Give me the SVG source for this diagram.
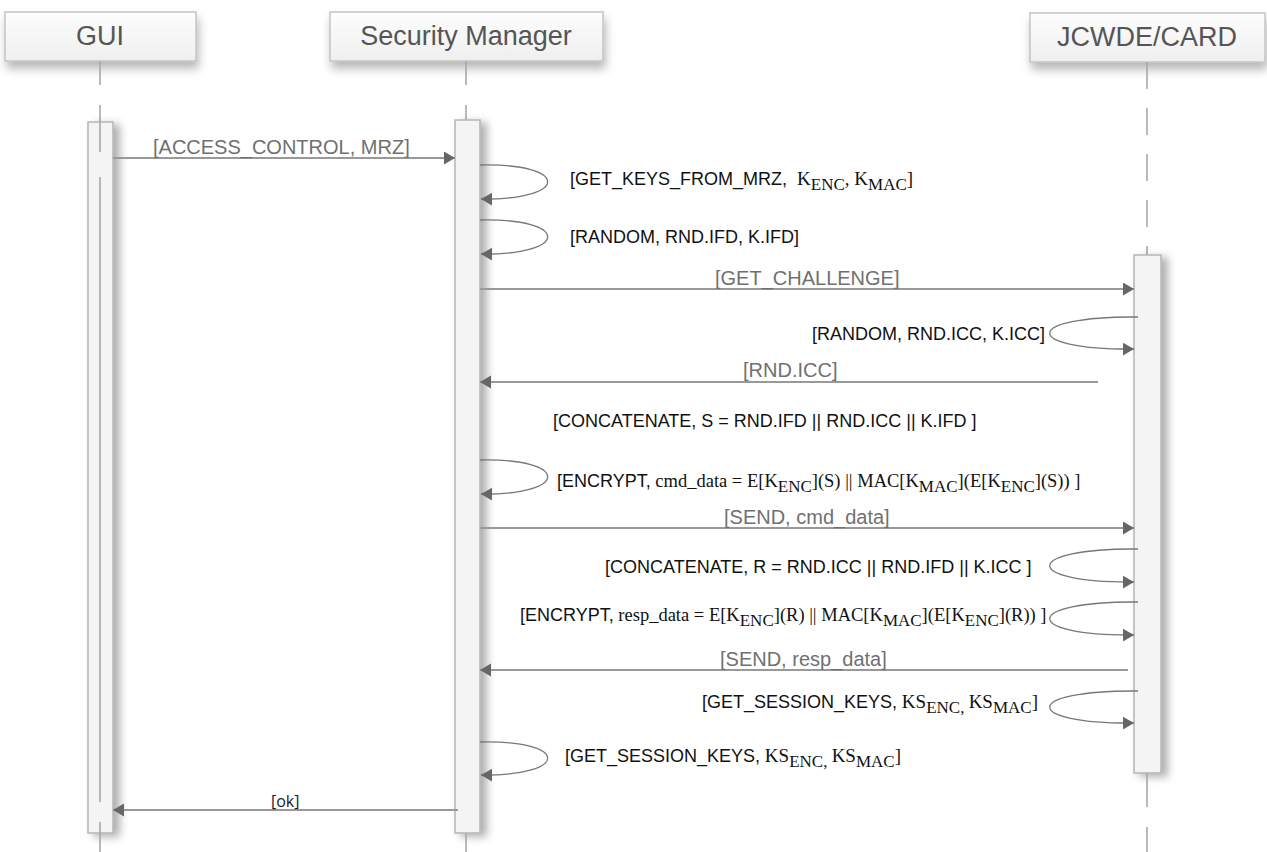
<svg xmlns="http://www.w3.org/2000/svg" width="1267" height="852" viewBox="0 0 1267 852">
<defs>
  <filter id="hsh" x="-20%" y="-30%" width="140%" height="180%"><feDropShadow dx="2" dy="7" stdDeviation="5" flood-color="#000" flood-opacity="0.28"/></filter>
  <filter id="bsh" x="-60%" y="-5%" width="260%" height="110%"><feDropShadow dx="6" dy="3" stdDeviation="4" flood-color="#000" flood-opacity="0.32"/></filter>
  <linearGradient id="hg" x1="0" y1="0" x2="0" y2="1"><stop offset="0" stop-color="#fdfdfd"/><stop offset="1" stop-color="#efefef"/></linearGradient>
  <marker id="ah" markerUnits="userSpaceOnUse" markerWidth="12" markerHeight="14" refX="11" refY="6.5" orient="auto"><path d="M0,0 L11,6.5 L0,13 z" fill="#666"/></marker>
</defs>
<style>
  .hdr{fill:url(#hg);stroke:#c4c4c4;stroke-width:1.5}
  .title{font-family:"Liberation Sans",Arial,sans-serif;font-size:27px;fill:#555;text-anchor:middle}
  .life{stroke:#a8a8a8;stroke-width:1.6;fill:none}
  .bar{fill:#f4f4f4;stroke:#b5b5b5;stroke-width:1.5}
  .msg{stroke:#999;stroke-width:2;fill:none}
  .loop{stroke:#777;stroke-width:1.3;fill:none}
  .gl{font-family:"Liberation Sans",Arial,sans-serif;font-size:20px;fill:#707070}
  .bl{font-family:"Liberation Sans",Arial,sans-serif;font-size:18px;fill:#111}
  .tm{font-family:"Liberation Serif","Times New Roman",serif}
  .ok{font-family:"Open Sans","Noto Sans",sans-serif;font-size:16px;fill:#1a1a2a}
</style>
<rect width="1267" height="852" fill="#fff"/>

<g id="gui">
  <rect class="hdr" x="5" y="12" width="191" height="49" filter="url(#hsh)"/>
  <text class="title" x="100" y="45">GUI</text>
  <line class="life" x1="100" y1="61" x2="100" y2="85"/>
  <line class="life" x1="100" y1="105" x2="100" y2="122"/>
  <rect class="bar" x="88" y="122" width="25" height="711" filter="url(#bsh)"/>
  <line class="life" x1="100" y1="122" x2="100" y2="152"/>
  <line class="life" x1="100" y1="177" x2="100" y2="802"/>
  <line class="life" x1="100" y1="822" x2="100" y2="852"/>
</g>

<g id="security-manager">
  <rect class="hdr" x="330" y="12" width="273" height="49" filter="url(#hsh)"/>
  <text class="title" x="466" y="45">Security Manager</text>
  <line class="life" x1="466" y1="61" x2="466" y2="85"/>
  <line class="life" x1="466" y1="105" x2="466" y2="120"/>
  <rect class="bar" x="455" y="120" width="25" height="713" filter="url(#bsh)"/>
  <line class="life" x1="466" y1="833" x2="466" y2="852"/>
</g>

<g id="jcwde-card">
  <rect class="hdr" x="1030" y="13" width="235" height="49" filter="url(#hsh)"/>
  <text class="title" x="1147" y="46">JCWDE/CARD</text>
  <line class="life" x1="1147" y1="62" x2="1147" y2="255" stroke-dasharray="27 19"/>
  <rect class="bar" x="1134" y="255" width="27" height="518" filter="url(#bsh)"/>
  <line class="life" x1="1147" y1="773" x2="1147" y2="807"/>
  <line class="life" x1="1147" y1="827" x2="1147" y2="852"/>
</g>

<g id="connectors">
  <line class="msg" x1="113" y1="158" x2="455" y2="158" marker-end="url(#ah)"/>
  <path class="loop" d="M480,165 C570,163 570,200 481,199" marker-end="url(#ah)"/>
  <path class="loop" d="M480,220 C570,218 570,255 481,254" marker-end="url(#ah)"/>
  <line class="msg" x1="480" y1="289" x2="1134" y2="289" marker-end="url(#ah)"/>
  <path class="loop" d="M1138,317 C1021,316 1021,350 1134,349" marker-end="url(#ah)"/>
  <line class="msg" x1="1098" y1="382" x2="480" y2="382" marker-end="url(#ah)"/>
  <path class="loop" d="M480,460 C570,458 570,495 481,494" marker-end="url(#ah)"/>
  <line class="msg" x1="480" y1="528" x2="1134" y2="528" marker-end="url(#ah)"/>
  <path class="loop" d="M1138,549 C1021,548 1021,583 1134,582" marker-end="url(#ah)"/>
  <path class="loop" d="M1138,602 C1021,601 1021,636 1134,635" marker-end="url(#ah)"/>
  <line class="msg" x1="1128" y1="670" x2="480" y2="670" marker-end="url(#ah)"/>
  <path class="loop" d="M1138,691 C1021,690 1021,724 1134,723" marker-end="url(#ah)"/>
  <path class="loop" d="M480,742 C570,740 570,776 481,775" marker-end="url(#ah)"/>
  <line class="msg" x1="458" y1="810" x2="113" y2="810" marker-end="url(#ah)"/>
</g>

<g id="labels">
  <text class="gl" x="153" y="154">[ACCESS_CONTROL, MRZ]</text>
  <text class="bl" x="570" y="185">[GET_KEYS_FROM_MRZ,<tspan class="tm" font-size="19" dx="10">K</tspan><tspan class="tm" font-size="17" dy="5">ENC</tspan><tspan class="tm" font-size="19" dy="-5">, K</tspan><tspan class="tm" font-size="17" dy="5">MAC</tspan><tspan class="tm" font-size="19" dy="-5">]</tspan></text>
  <text class="bl" x="570" y="243">[RANDOM, RND.IFD, K.IFD]</text>
  <text class="gl" x="715" y="285">[GET_CHALLENGE]</text>
  <text class="bl" x="812" y="340">[RANDOM, RND.ICC, K.ICC]</text>
  <text class="gl" x="743" y="377">[RND.ICC]</text>
  <text class="bl" x="553" y="427">[CONCATENATE, S = RND.IFD || RND.ICC || K.IFD ]</text>
  <text class="bl" x="557" y="487">[ENCRYPT,<tspan class="tm" font-size="18.5"> cmd_data = E[K</tspan><tspan class="tm" font-size="17" dy="5">ENC</tspan><tspan class="tm" font-size="18.5" dy="-5">](S) || MAC[K</tspan><tspan class="tm" font-size="17" dy="5">MAC</tspan><tspan class="tm" font-size="18.5" dy="-5">](E[K</tspan><tspan class="tm" font-size="17" dy="5">ENC</tspan><tspan class="tm" font-size="18.5" dy="-5">](S)) ]</tspan></text>
  <text class="gl" x="724" y="524">[SEND, cmd_data]</text>
  <text class="bl" x="605" y="573">[CONCATENATE, R = RND.ICC || RND.IFD || K.ICC ]</text>
  <text class="bl" x="520" y="621">[ENCRYPT,<tspan class="tm" font-size="18.5"> resp_data = E[K</tspan><tspan class="tm" font-size="17" dy="5">ENC</tspan><tspan class="tm" font-size="18.5" dy="-5">](R) || MAC[K</tspan><tspan class="tm" font-size="17" dy="5">MAC</tspan><tspan class="tm" font-size="18.5" dy="-5">](E[K</tspan><tspan class="tm" font-size="17" dy="5">ENC</tspan><tspan class="tm" font-size="18.5" dy="-5">](R)) ]</tspan></text>
  <text class="gl" x="720" y="666">[SEND, resp_data]</text>
  <text class="bl" x="702" y="708">[GET_SESSION_KEYS,<tspan class="tm" font-size="19"> KS</tspan><tspan class="tm" font-size="17" dy="5">ENC, </tspan><tspan class="tm" font-size="19" dy="-5">KS</tspan><tspan class="tm" font-size="17" dy="5">MAC</tspan><tspan class="tm" font-size="19" dy="-5">]</tspan></text>
  <text class="bl" x="565" y="762">[GET_SESSION_KEYS,<tspan class="tm" font-size="19"> KS</tspan><tspan class="tm" font-size="17" dy="5">ENC, </tspan><tspan class="tm" font-size="19" dy="-5">KS</tspan><tspan class="tm" font-size="17" dy="5">MAC</tspan><tspan class="tm" font-size="19" dy="-5">]</tspan></text>
  <text class="ok" x="271" y="807">[ok]</text>
</g>
</svg>
